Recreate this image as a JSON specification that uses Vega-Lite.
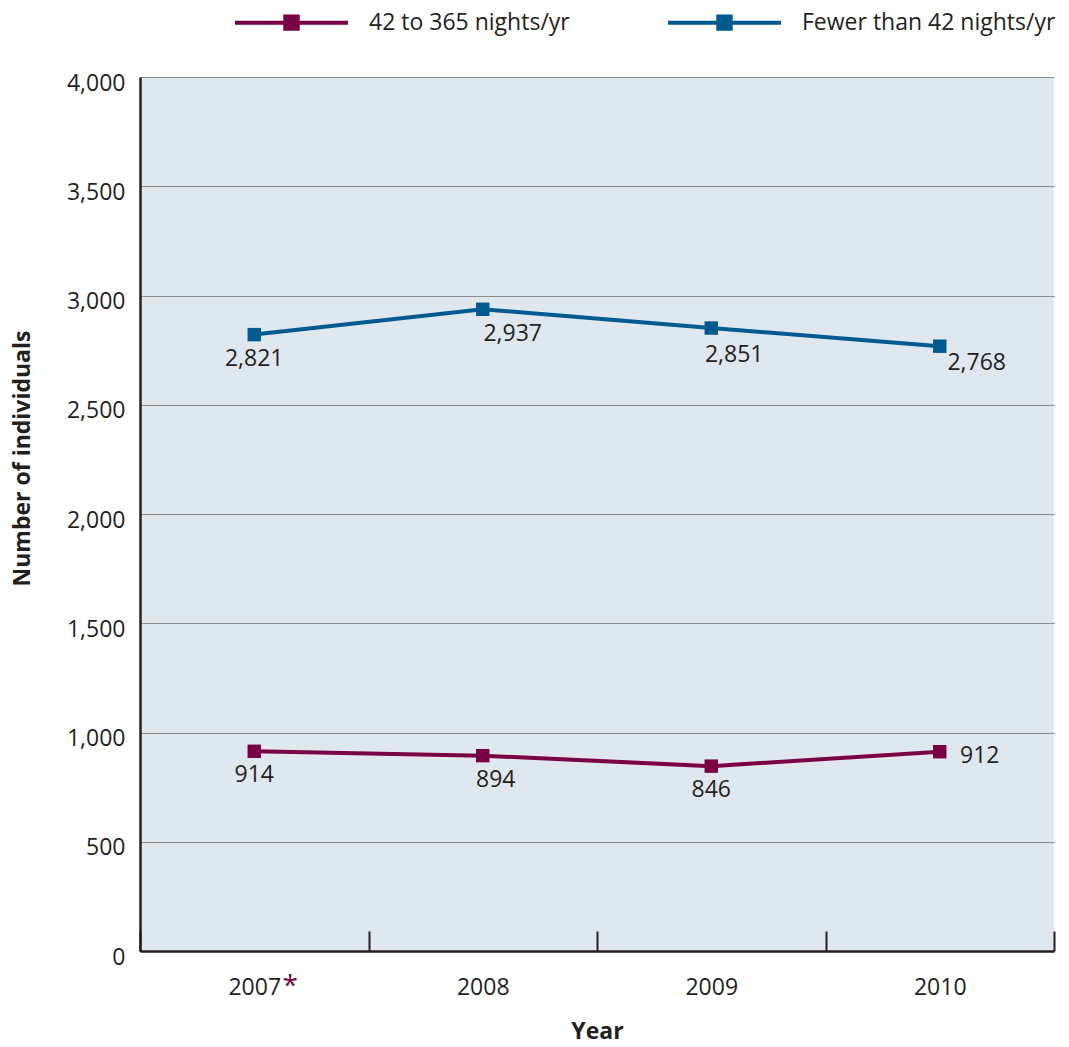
{
  "$schema": "https://vega.github.io/schema/vega-lite/v6.json",
  "width": 914,
  "height": 874,
  "autosize": {"type": "none"},
  "padding": {"left": 140, "top": 77, "right": 15, "bottom": 96},
  "background": "white",
  "config": {
    "view": {"fill": "#DFE8EE", "stroke": null},
    "font": "Open Sans",
    "axis": {"labelFont": "Open Sans", "titleFont": "Open Sans", "labelColor": "#231f20", "titleColor": "#231f20"},
    "legend": {"labelFont": "Open Sans"},
    "text": {"font": "Open Sans"}
  },
  "data": {
    "values": [
      {"year": "2007", "series": "42 to 365 nights/yr", "value": 914},
      {"year": "2008", "series": "42 to 365 nights/yr", "value": 894},
      {"year": "2009", "series": "42 to 365 nights/yr", "value": 846},
      {"year": "2010", "series": "42 to 365 nights/yr", "value": 912},
      {"year": "2007", "series": "Fewer than 42 nights/yr", "value": 2821},
      {"year": "2008", "series": "Fewer than 42 nights/yr", "value": 2937},
      {"year": "2009", "series": "Fewer than 42 nights/yr", "value": 2851},
      {"year": "2010", "series": "Fewer than 42 nights/yr", "value": 2768}
    ]
  },
  "encoding": {
    "x": {
      "field": "year", "type": "ordinal",
      "scale": {"type": "band", "paddingInner": 0, "paddingOuter": 0},
      "axis": {
        "title": "Year", "labelAngle": 0, "labelFontSize": 23, "labelPadding": 45,
        "tickBand": "extent", "tickSize": -20, "tickWidth": 2, "tickColor": "#231f20",
        "domainColor": "#231f20", "domainWidth": 2.5,
        "titleFontSize": 23, "titleFontWeight": "bold", "titlePadding": 21
      }
    },
    "y": {
      "field": "value", "type": "quantitative",
      "scale": {"domain": [0, 4000], "nice": false},
      "axis": {
        "title": "Number of individuals", "values": [0, 500, 1000, 1500, 2000, 2500, 3000, 3500, 4000],
        "format": ",d", "labelFontSize": 23, "labelPadding": 15, "labelOffset": 6, "ticks": false,
        "domainColor": "#231f20", "domainWidth": 2.5,
        "gridColor": "#8c8c8c", "gridWidth": 1.2,
        "titleFontSize": 23, "titleFontWeight": "bold", "titleY": 381, "titleX": -118, "titleBaseline": "middle", "titleAlign": "center"
      }
    },
    "color": {
      "field": "series", "type": "nominal",
      "scale": {"domain": ["42 to 365 nights/yr", "Fewer than 42 nights/yr"], "range": ["#7A0044", "#005A8F"]},
      "legend": {
        "title": null, "orient": "none", "legendX": 93, "legendY": -113, "direction": "horizontal",
        "symbolType": "M-1,0H1M-0.11,-0.11H0.11V0.11H-0.11Z", "symbolSize": 12769, "symbolStrokeWidth": 4,
        "labelFontSize": 23, "labelColor": "#231f20", "labelOffset": 19, "labelLimit": 0, "columnPadding": 90, "padding": 0,
        "encode": {"symbols": {"update": {"fill": {"scale": "color", "field": "value"}, "stroke": {"scale": "color", "field": "value"}, "strokeWidth": {"value": 4}, "opacity": {"value": 1}}}}
      }
    }
  },
  "layer": [
    {"mark": {"type": "line", "strokeWidth": 4}},
    {"mark": {"type": "point", "shape": "square", "filled": true, "size": 180, "opacity": 1}},
    {
      "transform": [{"filter": "datum.year == '2007' || (datum.year == '2009' && datum.value < 2000)"}],
      "mark": {"type": "text", "fontSize": 23, "baseline": "middle", "dx": 0, "dy": 24},
      "encoding": {"text": {"field": "value", "type": "quantitative", "format": ","}, "color": {"value": "#231f20"}}
    },
    {
      "transform": [{"filter": "datum.year == '2008' && datum.value > 2000"}],
      "mark": {"type": "text", "fontSize": 23, "baseline": "middle", "dx": 30, "dy": 25},
      "encoding": {"text": {"field": "value", "type": "quantitative", "format": ","}, "color": {"value": "#231f20"}}
    },
    {
      "transform": [{"filter": "datum.year == '2008' && datum.value < 2000"}],
      "mark": {"type": "text", "fontSize": 23, "baseline": "middle", "dx": 13, "dy": 24},
      "encoding": {"text": {"field": "value", "type": "quantitative", "format": ","}, "color": {"value": "#231f20"}}
    },
    {
      "transform": [{"filter": "datum.year == '2009' && datum.value > 2000"}],
      "mark": {"type": "text", "fontSize": 23, "baseline": "middle", "dx": 23, "dy": 27},
      "encoding": {"text": {"field": "value", "type": "quantitative", "format": ","}, "color": {"value": "#231f20"}}
    },
    {
      "transform": [{"filter": "datum.year == '2010' && datum.value > 2000"}],
      "mark": {"type": "text", "fontSize": 23, "baseline": "middle", "dx": 37, "dy": 17},
      "encoding": {"text": {"field": "value", "type": "quantitative", "format": ","}, "color": {"value": "#231f20"}}
    },
    {
      "transform": [{"filter": "datum.year == '2010' && datum.value < 2000"}],
      "mark": {"type": "text", "fontSize": 23, "baseline": "middle", "dx": 40, "dy": 4},
      "encoding": {"text": {"field": "value", "type": "quantitative", "format": ","}, "color": {"value": "#231f20"}}
    },
    {
      "data": {"values": [{"year": "2007", "note": "*", "value": -200}]},
      "mark": {"type": "text", "fontSize": 28, "baseline": "alphabetic", "align": "center", "dx": 36, "clip": false},
      "encoding": {
        "x": {"field": "year", "type": "ordinal"},
        "y": {"field": "value", "type": "quantitative"},
        "text": {"field": "note", "type": "nominal"},
        "color": {"value": "#7A0044"}
      }
    }
  ]
}
